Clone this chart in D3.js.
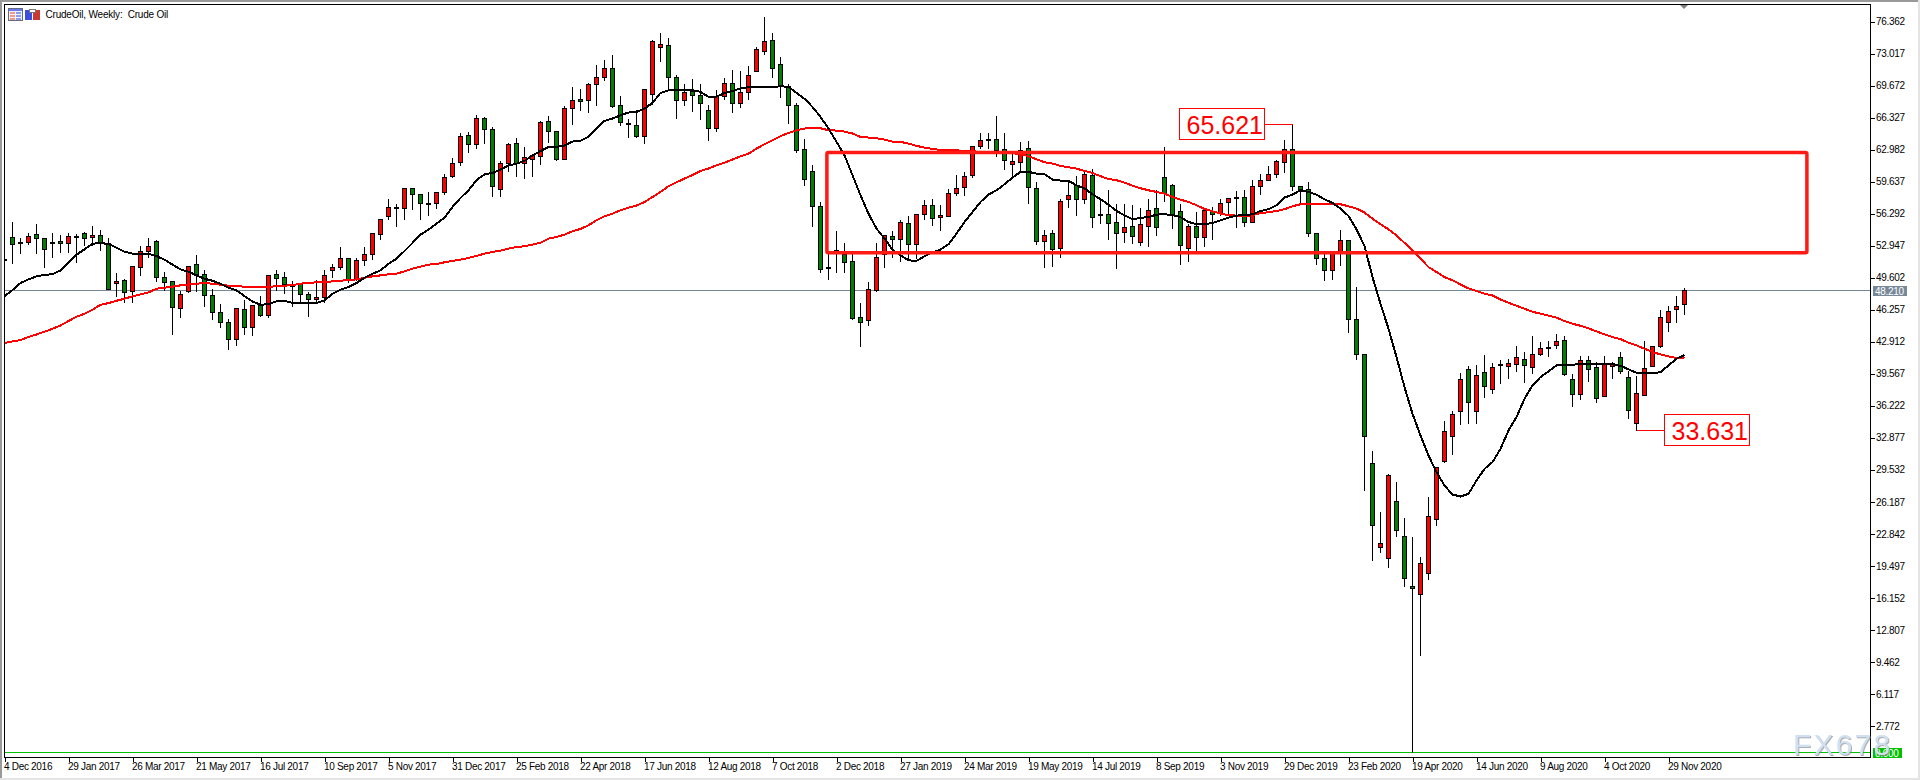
<!DOCTYPE html>
<html>
<head>
<meta charset="utf-8">
<title>CrudeOil, Weekly</title>
<script src="https://cdn.jsdelivr.net/npm/d3@7"></script>
<style>
  html, body { margin: 0; padding: 0; background: #fff; overflow: hidden; }
  svg { display: block; }
  text { font-family: "Liberation Sans", Arial, sans-serif; }
  .axis text { font-size: 10px; fill: #000; letter-spacing: -0.3px; }
  .axis line { stroke: #000; shape-rendering: crispEdges; }
  .wick { stroke: #000; shape-rendering: crispEdges; }
  .body { stroke: #000; shape-rendering: crispEdges; }
  .ma { fill: none; stroke-width: 2; stroke-linejoin: round; shape-rendering: crispEdges; }
</style>
</head>
<body>
<div id="chart"></div>
<script>
const dateLabels = [
  "4 Dec 2016", "29 Jan 2017", "26 Mar 2017", "21 May 2017", "16 Jul 2017", "10 Sep 2017", "5 Nov 2017",
  "31 Dec 2017", "25 Feb 2018", "22 Apr 2018", "17 Jun 2018", "12 Aug 2018", "7 Oct 2018", "2 Dec 2018",
  "27 Jan 2019", "24 Mar 2019", "19 May 2019", "14 Jul 2019", "8 Sep 2019", "3 Nov 2019", "29 Dec 2019",
  "23 Feb 2020", "19 Apr 2020", "14 Jun 2020", "9 Aug 2020", "4 Oct 2020", "29 Nov 2020",
];
const priceTicks = [
  76.362, 73.017, 69.672, 66.327, 62.982, 59.637, 56.292, 52.947, 49.602, 46.257, 42.912, 39.567,
  36.222, 32.877, 29.532, 26.187, 22.842, 19.497, 16.152, 12.807, 9.462, 6.117, 2.772,
];

// Weekly candles, one entry per bar
const opens = [
  51.55, 53.78, 53.29, 53.26, 54.09, 53.67, 53.19, 53.36, 53.15, 53.85,
  54.20, 53.78, 53.99, 53.15, 48.97, 49.28, 48.13, 50.64, 52.31, 53.36,
  49.60, 49.18, 46.36, 48.13, 50.96, 49.91, 47.72, 45.94, 44.89, 43.12,
  46.25, 44.37, 46.67, 45.63, 49.91, 49.60, 48.76, 48.87, 47.82, 47.30,
  47.51, 50.33, 50.64, 51.58, 49.39, 51.37, 52.00, 54.09, 55.97, 56.81,
  56.81, 58.91, 58.28, 57.27, 57.34, 58.49, 60.16, 61.62, 64.44, 63.50,
  66.22, 65.07, 58.80, 61.52, 63.61, 61.52, 61.94, 62.25, 65.91, 64.86,
  61.94, 67.27, 68.21, 68.10, 69.78, 70.51, 71.45, 67.58, 65.63, 65.49,
  64.34, 68.73, 73.64, 73.85, 70.51, 68.10, 69.04, 68.63, 67.06, 65.18,
  68.52, 69.88, 67.79, 68.94, 71.13, 73.22, 74.37, 71.87, 69.57, 67.58,
  62.98, 60.68, 57.03, 50.61, 52.39, 52.01, 51.28, 45.42, 45.15, 48.25,
  52.01, 53.89, 53.58, 55.25, 53.05, 56.19, 57.13, 55.88, 55.98, 58.38,
  59.01, 60.27, 63.30, 63.96, 64.03, 62.95, 61.45, 61.63, 63.09, 58.91,
  53.37, 54.20, 52.64, 57.76, 59.22, 57.76, 60.27, 56.15, 56.19, 55.35,
  54.31, 54.94, 53.26, 54.94, 56.82, 60.06, 59.22, 56.50, 52.64, 54.94,
  53.79, 56.50, 56.29, 57.44, 57.90, 57.97, 55.35, 59.11, 59.74, 60.37,
  61.63, 62.98, 59.11, 58.80, 54.20, 51.59, 50.34, 52.11, 53.46, 45.21,
  41.55, 30.16, 21.38, 20.23, 26.18, 22.53, 17.30, 16.46, 18.66, 24.30,
  30.37, 32.98, 35.59, 39.98, 35.59, 39.67, 37.89, 40.47, 40.30, 40.50,
  41.03, 40.19, 41.55, 42.25, 42.49, 43.01, 38.94, 37.37, 40.92, 40.19,
  37.16, 40.30, 41.24, 39.15, 34.34, 37.26, 40.30, 42.39, 44.89, 46.25,
  46.78,
];
const highs = [
  51.76, 55.49, 53.78, 54.30, 55.24, 53.78, 54.30, 54.09, 54.30, 54.20,
  54.44, 55.07, 54.61, 53.78, 50.15, 49.49, 50.85, 52.94, 53.78, 53.57,
  50.22, 49.28, 48.24, 50.85, 52.00, 50.43, 48.45, 46.88, 45.31, 46.36,
  47.30, 46.67, 47.72, 49.81, 50.43, 50.22, 49.28, 48.97, 48.13, 49.39,
  50.43, 51.06, 52.84, 51.69, 51.69, 52.84, 54.30, 55.76, 57.85, 57.33,
  59.01, 59.05, 58.28, 58.59, 58.49, 60.47, 62.15, 64.76, 64.86, 66.64,
  66.43, 65.39, 61.83, 63.71, 64.24, 63.30, 62.56, 66.01, 66.54, 64.97,
  67.58, 69.57, 69.36, 69.98, 71.87, 72.39, 72.91, 68.63, 66.22, 67.16,
  69.36, 74.48, 75.21, 74.69, 70.82, 69.88, 70.40, 69.88, 67.68, 69.25,
  70.51, 71.34, 71.24, 71.76, 73.75, 76.88, 75.21, 72.70, 69.88, 67.89,
  64.13, 61.42, 57.55, 52.22, 54.52, 53.26, 52.11, 46.99, 49.19, 53.26,
  53.99, 54.52, 55.67, 56.09, 56.19, 57.76, 57.86, 57.23, 58.91, 60.37,
  60.68, 63.30, 64.76, 64.76, 66.54, 64.76, 62.57, 63.82, 63.92, 59.64,
  54.62, 54.62, 57.86, 59.85, 60.27, 60.68, 61.00, 57.76, 58.80, 57.34,
  57.34, 57.23, 56.92, 57.86, 58.80, 63.30, 59.43, 57.34, 55.25, 56.50,
  56.82, 57.03, 57.86, 57.97, 58.70, 58.80, 59.85, 60.47, 61.31, 61.94,
  64.03, 65.62, 59.22, 59.64, 54.20, 52.11, 52.11, 54.62, 53.46, 48.66,
  41.55, 31.51, 25.14, 29.11, 28.27, 24.51, 22.53, 20.44, 26.71, 29.74,
  34.69, 35.70, 39.67, 40.43, 40.50, 41.55, 40.71, 41.06, 41.13, 42.49,
  41.86, 43.54, 42.91, 43.01, 43.75, 43.54, 39.56, 41.45, 41.45, 40.82,
  41.45, 40.82, 41.86, 39.88, 39.36, 43.01, 42.49, 46.25, 46.67, 47.72,
  48.55,
];
const lows = [
  51.20, 51.06, 52.11, 53.08, 52.11, 50.71, 51.69, 52.18, 52.18, 51.17,
  52.98, 52.98, 52.45, 48.34, 47.65, 46.98, 47.05, 49.81, 51.69, 49.18,
  48.24, 43.71, 45.49, 48.03, 48.13, 46.64, 45.21, 44.44, 42.07, 42.56,
  43.71, 43.60, 45.52, 45.42, 48.27, 47.92, 46.57, 46.98, 45.52, 47.05,
  46.98, 49.63, 50.43, 49.07, 49.28, 50.85, 51.48, 53.60, 55.66, 54.96,
  55.73, 56.71, 55.73, 56.05, 56.78, 58.28, 60.06, 61.27, 62.70, 63.09,
  63.57, 58.07, 58.07, 60.65, 60.16, 59.92, 60.16, 61.38, 63.68, 61.83,
  61.94, 65.59, 67.02, 66.81, 67.58, 70.19, 67.37, 65.49, 64.24, 64.24,
  63.57, 67.68, 72.18, 69.25, 66.22, 67.58, 66.95, 66.12, 63.92, 64.86,
  68.21, 66.85, 67.37, 68.21, 71.13, 72.91, 70.51, 68.42, 65.70, 62.67,
  59.22, 54.94, 50.13, 49.40, 50.13, 50.13, 45.22, 42.43, 44.62, 48.14,
  50.65, 51.70, 51.28, 51.59, 51.59, 55.67, 55.04, 54.52, 55.98, 58.18,
  58.18, 60.06, 63.09, 63.09, 62.25, 60.89, 60.06, 60.68, 57.34, 53.05,
  50.65, 50.75, 51.70, 56.92, 56.09, 57.34, 54.83, 55.25, 53.58, 50.55,
  53.26, 53.16, 52.95, 52.85, 53.99, 57.55, 54.73, 50.96, 51.28, 52.32,
  52.85, 53.58, 56.09, 56.29, 54.83, 54.97, 55.35, 58.28, 59.74, 60.06,
  60.58, 58.70, 57.44, 53.89, 50.96, 49.29, 49.40, 50.86, 43.85, 41.03,
  27.33, 20.02, 20.85, 19.29, 22.53, 17.30, 0.00, 10.09, 18.03, 23.68,
  30.26, 31.10, 34.23, 34.34, 34.34, 37.05, 37.47, 38.52, 39.04, 39.77,
  38.69, 39.56, 41.45, 41.38, 42.18, 39.36, 36.11, 36.85, 38.80, 36.60,
  37.16, 39.04, 39.56, 34.86, 33.63, 37.26, 40.30, 42.28, 43.95, 44.89,
  45.73,
];
const closes = [
  51.41, 53.05, 53.15, 53.88, 53.67, 52.52, 53.26, 53.15, 53.88, 53.92,
  53.67, 53.99, 53.26, 48.34, 49.18, 48.03, 50.75, 52.31, 52.84, 49.60,
  49.07, 46.46, 47.82, 50.75, 49.91, 47.72, 45.94, 44.89, 43.12, 46.36,
  44.37, 46.67, 45.63, 49.81, 49.49, 48.87, 48.83, 47.82, 47.30, 47.51,
  49.81, 50.64, 51.58, 49.28, 51.37, 52.00, 54.20, 55.66, 56.91, 56.91,
  58.91, 58.28, 57.34, 57.34, 58.49, 60.06, 61.52, 64.34, 63.50, 66.22,
  65.07, 59.11, 61.52, 63.50, 61.52, 62.15, 62.32, 65.80, 64.86, 61.94,
  67.27, 68.10, 68.00, 69.78, 70.51, 71.45, 67.48, 65.80, 65.70, 64.34,
  69.25, 74.27, 73.96, 70.51, 68.10, 68.94, 68.63, 67.79, 65.18, 68.52,
  69.88, 67.79, 68.94, 70.72, 73.43, 74.27, 71.45, 69.57, 67.58, 62.88,
  59.85, 57.03, 50.44, 50.69, 52.46, 51.17, 45.32, 44.94, 48.35, 51.70,
  53.99, 53.58, 55.35, 53.05, 56.19, 57.13, 55.77, 56.09, 58.38, 58.91,
  60.16, 63.30, 63.92, 64.03, 62.88, 61.83, 61.73, 62.88, 59.01, 53.37,
  53.99, 52.53, 57.55, 58.18, 57.76, 60.37, 55.88, 56.22, 55.25, 54.20,
  54.83, 53.89, 55.14, 56.61, 54.83, 58.38, 56.19, 52.95, 54.94, 53.79,
  56.61, 56.19, 57.34, 57.86, 57.97, 55.35, 59.11, 59.74, 60.37, 61.73,
  62.98, 59.11, 58.80, 54.20, 51.59, 50.34, 52.11, 53.47, 45.21, 41.55,
  32.98, 23.68, 21.79, 28.90, 23.15, 18.14, 17.09, 19.70, 24.62, 29.74,
  33.50, 35.28, 38.94, 36.53, 39.35, 38.20, 40.19, 40.54, 40.61, 41.24,
  40.40, 41.55, 42.18, 42.32, 42.91, 39.46, 37.37, 40.92, 39.98, 36.95,
  40.50, 40.68, 39.77, 35.70, 37.47, 40.09, 42.39, 45.42, 46.04, 46.57,
  48.21,
];

// Black moving average
const fastMA = [
  47.68, 48.31, 49.04, 49.42, 49.74, 49.91, 49.95, 50.36, 51.17, 52.00,
  52.56, 53.15, 53.22, 53.12, 52.73, 52.31, 52.11, 52.11, 52.11, 51.86,
  51.48, 50.96, 50.47, 50.22, 49.84, 49.49, 49.28, 48.97, 48.55, 48.27,
  47.68, 47.12, 46.77, 46.84, 47.12, 47.16, 46.98, 46.91, 46.91, 46.95,
  47.23, 47.92, 48.34, 48.62, 49.04, 49.60, 50.02, 50.36, 51.06, 51.58,
  52.39, 53.23, 54.10, 54.62, 55.25, 55.87, 56.99, 57.93, 58.73, 59.78,
  60.40, 60.54, 60.89, 61.31, 61.52, 61.80, 62.35, 62.84, 63.26, 63.26,
  63.40, 63.82, 63.89, 64.31, 65.18, 65.98, 66.22, 66.57, 66.85, 66.92,
  67.27, 67.86, 68.90, 69.18, 69.18, 69.18, 69.18, 69.01, 68.49, 68.49,
  68.90, 69.11, 69.39, 69.50, 69.50, 69.50, 69.50, 69.60, 69.53, 68.90,
  68.28, 67.44, 66.40, 65.18, 63.79, 62.39, 60.30, 58.21, 56.29, 54.73,
  53.68, 52.53, 51.94, 51.42, 51.35, 51.83, 52.25, 52.53, 53.09, 54.20,
  55.42, 56.47, 57.51, 58.28, 58.73, 59.36, 60.06, 60.65, 60.65, 60.48,
  60.41, 59.85, 59.74, 59.71, 59.26, 58.91, 58.32, 57.79, 57.23, 56.57,
  56.12, 55.70, 55.84, 55.95, 56.19, 56.22, 56.15, 55.91, 55.42, 55.18,
  55.18, 55.32, 55.60, 55.88, 56.09, 56.12, 56.22, 56.57, 56.75, 57.17,
  57.97, 58.28, 58.73, 58.56, 58.28, 57.79, 57.41, 56.82, 56.05, 54.66,
  52.91, 49.67, 46.88, 44.27, 41.31, 38.17, 35.38, 33.12, 31.03, 29.29,
  27.89, 26.95, 26.74, 27.02, 28.41, 29.63, 30.33, 31.72, 33.64, 35.04,
  36.95, 38.34, 39.22, 39.81, 40.44, 40.44, 40.50, 40.61, 40.61, 40.54,
  40.54, 40.54, 40.40, 40.02, 39.67, 39.60, 39.60, 39.74, 40.44, 41.13,
  41.52,
];
// Red moving average
const slowMA = [
  42.77, 42.94, 43.08, 43.40, 43.67, 43.95, 44.27, 44.61, 45.07, 45.52,
  45.83, 46.25, 46.77, 46.95, 47.19, 47.40, 47.65, 47.85, 48.06, 48.45,
  48.55, 48.66, 48.80, 48.87, 48.97, 49.04, 48.97, 48.87, 48.76, 48.73,
  48.66, 48.62, 48.62, 48.66, 48.69, 48.76, 48.83, 48.97, 49.07, 49.11,
  49.14, 49.21, 49.28, 49.35, 49.42, 49.60, 49.74, 49.84, 49.95, 50.02,
  50.26, 50.54, 50.75, 50.96, 51.03, 51.21, 51.35, 51.48, 51.66, 51.87,
  52.11, 52.29, 52.43, 52.63, 52.81, 52.88, 53.05, 53.26, 53.68, 53.85,
  54.10, 54.45, 54.69, 55.07, 55.60, 56.01, 56.29, 56.64, 56.92, 57.13,
  57.51, 58.03, 58.56, 59.15, 59.57, 59.95, 60.33, 60.75, 61.00, 61.34,
  61.62, 61.94, 62.28, 62.56, 63.09, 63.54, 63.96, 64.38, 64.72, 65.00,
  65.18, 65.25, 65.21, 65.00, 64.97, 64.86, 64.66, 64.31, 64.24, 64.17,
  64.03, 63.82, 63.79, 63.61, 63.37, 63.19, 63.05, 62.95, 62.91, 62.91,
  62.81, 62.81, 62.74, 62.74, 62.74, 62.67, 62.60, 62.50, 62.29, 61.97,
  61.66, 61.52, 61.28, 61.14, 61.00, 60.75, 60.54, 60.20, 59.92, 59.78,
  59.53, 59.22, 58.94, 58.73, 58.56, 58.38, 58.04, 57.76, 57.51, 57.17,
  56.78, 56.54, 56.29, 56.12, 56.09, 56.05, 56.12, 56.36, 56.43, 56.57,
  56.75, 57.06, 57.27, 57.34, 57.27, 57.27, 57.27, 57.27, 57.06, 56.82,
  56.40, 55.77, 55.18, 54.66, 54.03, 53.23, 52.46, 51.59, 50.71, 50.19,
  49.67, 49.32, 48.90, 48.48, 48.20, 47.92, 47.75, 47.33, 46.99, 46.67,
  46.36, 46.04, 45.84, 45.63, 45.42, 45.07, 44.79, 44.58, 44.30, 43.99,
  43.68, 43.40, 43.19, 42.80, 42.53, 42.18, 41.83, 41.59, 41.38, 41.20,
  41.17,
];

const lastPrice = 48.21;
const zeroPrice = 0;
// Drawn zone, given as bar positions and price levels
const zoneBars = [102.8, 225.3];
const zonePrices = [62.67, 52.21];
// Swing labels
const swingBars = [161, 204];
const swingValues = [65.621, 33.631];

class CandleChart {
  constructor(_config) {
    this.config = {
      parentElement: _config.parentElement,
      width: 1920,
      height: 780,
      frame: { left: 4, top: 4, right: 1870, bottom: 757 },
    };
    this.initVis();
  }

  initVis() {
    const vis = this;
    const f = vis.config.frame;

    vis.svg = d3
      .select(vis.config.parentElement)
      .append("svg")
      .attr("width", vis.config.width)
      .attr("height", vis.config.height);

    // one bar every 8px, the first one sits on the frame
    vis.xScale = d3.scaleLinear().domain([0, 210]).range([4.5, 1684.5]);
    vis.yScale = d3.scaleLinear().domain([0, 76.362]).range([752.5, 21.5]);

    vis.svg
      .append("clipPath")
      .attr("id", "plot-clip")
      .append("rect")
      .attr("x", f.left)
      .attr("y", f.top)
      .attr("width", f.right - f.left)
      .attr("height", f.bottom - f.top);

    vis.plot = vis.svg.append("g").attr("clip-path", "url(#plot-clip)");

    vis.drawChrome();
    vis.drawLevels();
    vis.drawCandles();
    vis.drawAverages();
    vis.drawZone();
    vis.drawFrame();
    vis.drawAxes();
    vis.drawSwingLabels();
    vis.drawTitle();
    vis.drawWatermark();
  }

  px(v) {
    return Math.round(v - 0.5) + 0.5;
  }

  drawChrome() {
    const vis = this;
    const chrome = vis.svg.append("g").attr("shape-rendering", "crispEdges");
    chrome.append("rect").attr("x", 0).attr("y", 0).attr("width", 1920).attr("height", 2).attr("fill", "#9a9a9a");
    chrome.append("rect").attr("x", 0).attr("y", 0).attr("width", 2).attr("height", 780).attr("fill", "#9a9a9a");
    chrome.append("rect").attr("x", 0).attr("y", 778).attr("width", 1920).attr("height", 2).attr("fill", "#e4e4e4");
    chrome.append("rect").attr("x", 1918).attr("y", 0).attr("width", 2).attr("height", 780).attr("fill", "#e4e4e4");
  }

  drawLevels() {
    const vis = this;
    const f = vis.config.frame;
    vis.plot
      .append("line")
      .attr("x1", f.left)
      .attr("x2", f.right)
      .attr("y1", vis.px(vis.yScale(lastPrice)))
      .attr("y2", vis.px(vis.yScale(lastPrice)))
      .attr("stroke", "#778899")
      .attr("shape-rendering", "crispEdges");
    vis.plot
      .append("line")
      .attr("x1", f.left)
      .attr("x2", f.right)
      .attr("y1", vis.px(vis.yScale(zeroPrice)))
      .attr("y2", vis.px(vis.yScale(zeroPrice)))
      .attr("stroke", "#00c000")
      .attr("stroke-width", 1)
      .attr("shape-rendering", "crispEdges");
  }

  drawCandles() {
    const vis = this;
    const bars = opens.map((o, i) => ({ i, o, h: highs[i], l: lows[i], c: closes[i] }));

    vis.plot
      .selectAll("line.wick")
      .data(bars)
      .join("line")
      .attr("class", "wick")
      .attr("x1", (d) => vis.xScale(d.i))
      .attr("x2", (d) => vis.xScale(d.i))
      .attr("y1", (d) => vis.px(vis.yScale(d.h)))
      .attr("y2", (d) => vis.px(vis.yScale(d.l)));

    vis.plot
      .selectAll("rect.body")
      .data(bars)
      .join("rect")
      .attr("class", "body")
      .attr("x", (d) => vis.xScale(d.i) - 2)
      .attr("y", (d) => vis.px(vis.yScale(Math.max(d.o, d.c))))
      .attr("width", 4)
      .attr("height", (d) =>
        Math.max(1, vis.px(vis.yScale(Math.min(d.o, d.c))) - vis.px(vis.yScale(Math.max(d.o, d.c))))
      )
      .attr("fill", (d) => (d.c >= d.o ? "#ff0000" : "#007f00"));
  }

  drawAverages() {
    const vis = this;
    const line = d3
      .line()
      .x((d, i) => vis.xScale(i))
      .y((d) => vis.yScale(d));

    vis.plot.append("path").attr("class", "ma").attr("stroke", "#ff0000").attr("d", line(slowMA));
    vis.plot.append("path").attr("class", "ma").attr("stroke", "#000000").attr("d", line(fastMA));
  }

  drawZone() {
    const vis = this;
    const x0 = vis.xScale(zoneBars[0]);
    const x1 = vis.xScale(zoneBars[1]);
    const y0 = vis.yScale(zonePrices[0]);
    const y1 = vis.yScale(zonePrices[1]);
    vis.plot
      .append("rect")
      .attr("x", x0)
      .attr("y", y0)
      .attr("width", x1 - x0)
      .attr("height", y1 - y0)
      .attr("rx", 1.5)
      .attr("fill", "none")
      .attr("stroke", "#ff1a14")
      .attr("stroke-width", 3.5);
  }

  drawFrame() {
    const f = this.config.frame;
    this.svg
      .append("rect")
      .attr("x", f.left + 0.5)
      .attr("y", f.top + 0.5)
      .attr("width", f.right - f.left)
      .attr("height", f.bottom - f.top)
      .attr("fill", "none")
      .attr("stroke", "#000")
      .attr("shape-rendering", "crispEdges");
  }

  drawAxes() {
    const vis = this;
    const f = vis.config.frame;

    const yAxis = d3
      .axisRight(vis.yScale)
      .tickValues(priceTicks)
      .tickSize(5)
      .tickPadding(1)
      .tickFormat((d) => d.toFixed(3));
    vis.svg.append("g").attr("class", "axis").attr("transform", `translate(${f.right},0)`).call(yAxis);

    const dateBars = dateLabels.map((d, i) => i * 8);
    const xAxis = d3
      .axisBottom(vis.xScale)
      .tickValues(dateBars)
      .tickSize(5)
      .tickPadding(1)
      .tickFormat((d) => dateLabels[d / 8]);
    const xG = vis.svg.append("g").attr("class", "axis").attr("transform", `translate(0,${f.bottom})`).call(xAxis);
    xG.selectAll("text").attr("text-anchor", "start").attr("dx", -1);
    vis.svg.selectAll(".axis .domain").remove();

    vis.priceTag(lastPrice, "#778899", 1873, 34);
    vis.priceTag(zeroPrice, "#00c000", 1873, 29);

    // chart shift marker on the top edge
    vis.svg.append("path").attr("d", "M1680,5 L1688,5 L1684,9 Z").attr("fill", "#808080");
  }

  priceTag(value, color, x, w) {
    const vis = this;
    const y = vis.yScale(value);
    vis.svg
      .append("rect")
      .attr("x", x)
      .attr("y", Math.round(y) - 5)
      .attr("width", w)
      .attr("height", 10)
      .attr("fill", color);
    vis.svg
      .append("text")
      .attr("x", x + 2)
      .attr("y", Math.round(y) + 3.5)
      .attr("font-size", 10)
      .attr("letter-spacing", "-0.3px")
      .attr("fill", "#fff")
      .text(value.toFixed(3));
  }

  drawSwingLabels() {
    const vis = this;
    const boxes = [
      { x: 1179.5, y: 108.5, side: "left" },
      { x: 1664.5, y: 414.5, side: "right" },
    ];
    swingValues.forEach((value, k) => {
      const box = boxes[k];
      const barX = vis.xScale(swingBars[k]);
      const ly = vis.px(vis.yScale(value));
      vis.svg
        .append("line")
        .attr("x1", barX)
        .attr("x2", box.side === "left" ? box.x + 85 : box.x)
        .attr("y1", ly)
        .attr("y2", ly)
        .attr("stroke", "#ff0000")
        .attr("shape-rendering", "crispEdges");
      vis.svg
        .append("rect")
        .attr("x", box.x)
        .attr("y", box.y)
        .attr("width", 85)
        .attr("height", 31)
        .attr("fill", "#fff")
        .attr("stroke", "#ff0000")
        .attr("shape-rendering", "crispEdges");
      vis.svg
        .append("text")
        .attr("x", box.x + 7)
        .attr("y", box.y + 25)
        .attr("font-size", 25)
        .attr("fill", "#ff0000")
        .text(value.toFixed(3));
    });
  }

  drawTitle() {
    const vis = this;
    const g = vis.svg.append("g").attr("shape-rendering", "crispEdges");
    // table icon
    g.append("rect").attr("x", 8.5).attr("y", 8.5).attr("width", 14).attr("height", 12).attr("fill", "#eef0fa").attr("stroke", "#666a80");
    g.append("rect").attr("x", 9).attr("y", 9).attr("width", 13).attr("height", 2).attr("fill", "#6c78ee");
    [12, 15, 18].forEach((y) => {
      g.append("rect").attr("x", 10).attr("y", y).attr("width", 5).attr("height", 2).attr("fill", "#ee9a86");
      g.append("rect").attr("x", 16).attr("y", y).attr("width", 5).attr("height", 2).attr("fill", "#8a9cee");
    });
    // buy / sell icon
    g.append("rect").attr("x", 25).attr("y", 10).attr("width", 7).attr("height", 10).attr("fill", "#3a4ee0");
    g.append("rect").attr("x", 33).attr("y", 10).attr("width", 7).attr("height", 10).attr("fill", "#c83a32");
    g.append("rect").attr("x", 29).attr("y", 9).attr("width", 6).attr("height", 3).attr("fill", "#fff").attr("stroke", "#777");

    vis.svg
      .append("text")
      .attr("x", 45.5)
      .attr("y", 18)
      .attr("font-size", 10)
      .attr("letter-spacing", "-0.2px")
      .attr("fill", "#000")
      .text("CrudeOil, Weekly:\u00a0\u00a0Crude Oil");
  }

  drawWatermark() {
    this.svg
      .append("text")
      .attr("x", 1793)
      .attr("y", 755)
      .attr("font-size", 30)
      .attr("letter-spacing", "2.2px")
      .attr("fill", "#cfe0f2")
      .style("filter", "drop-shadow(1.5px 1px 0.5px rgba(120,120,120,0.6))")
      .text("FX678");
  }
}

new CandleChart({ parentElement: "#chart" });
</script>
</body>
</html>
